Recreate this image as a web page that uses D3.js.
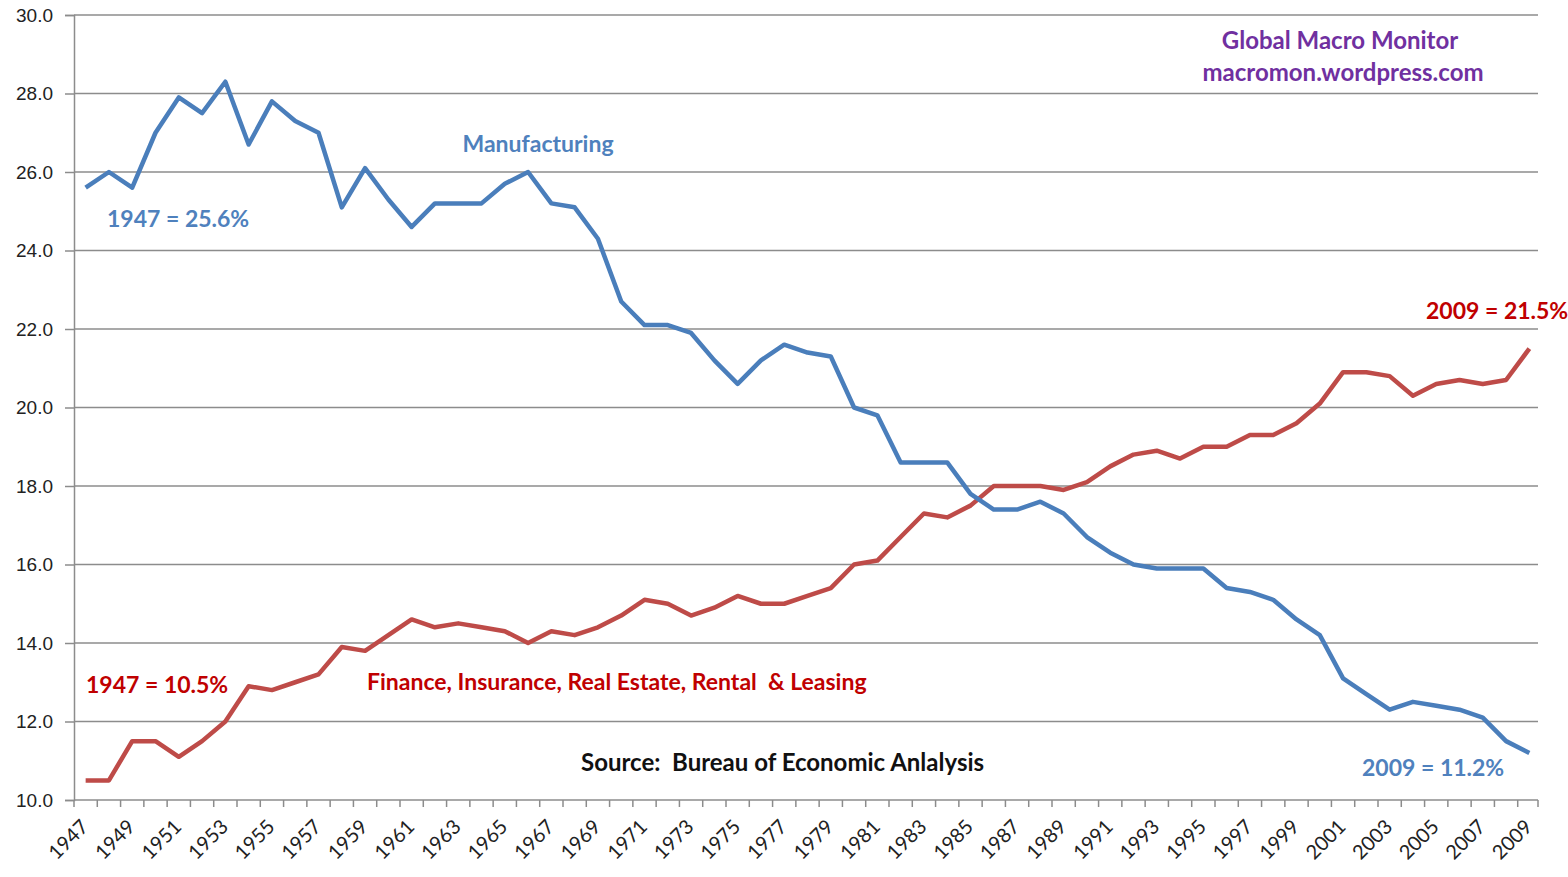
<!DOCTYPE html>
<html>
<head>
<meta charset="utf-8">
<script src="https://cdn.jsdelivr.net/npm/d3@7"></script>
<style>
  body { margin: 0; background: #fff; }
  svg { display: block; font-family: Lato, "Open Sans", sans-serif; }
  .grid line { stroke: #8c8c8c; stroke-width: 1.5; }
  .axis path, .axis line { stroke: #8c8c8c; stroke-width: 1.5; }
  .axis text { fill: #222; font-size: 19px; }
  .note { font-weight: bold; font-size: 23px; }
</style>
</head>
<body>
<script>

//------------------------------------------------------------------------------
// Data (share of GDP, %)
//------------------------------------------------------------------------------

var years = d3.range(1947, 2010);

var manufacturing = [
  25.6, 26.0, 25.6, 27.0, 27.9, 27.5, 28.3, 26.7, 27.8, 27.3,
  27.0, 25.1, 26.1, 25.3, 24.6, 25.2, 25.2, 25.2, 25.7, 26.0,
  25.2, 25.1, 24.3, 22.7, 22.1, 22.1, 21.9, 21.2, 20.6, 21.2,
  21.6, 21.4, 21.3, 20.0, 19.8, 18.6, 18.6, 18.6, 17.8, 17.4,
  17.4, 17.6, 17.3, 16.7, 16.3, 16.0, 15.9, 15.9, 15.9, 15.4,
  15.3, 15.1, 14.6, 14.2, 13.1, 12.7, 12.3, 12.5, 12.4, 12.3,
  12.1, 11.5, 11.2
];

var finance = [
  10.5, 10.5, 11.5, 11.5, 11.1, 11.5, 12.0, 12.9, 12.8, 13.0,
  13.2, 13.9, 13.8, 14.2, 14.6, 14.4, 14.5, 14.4, 14.3, 14.0,
  14.3, 14.2, 14.4, 14.7, 15.1, 15.0, 14.7, 14.9, 15.2, 15.0,
  15.0, 15.2, 15.4, 16.0, 16.1, 16.7, 17.3, 17.2, 17.5, 18.0,
  18.0, 18.0, 17.9, 18.1, 18.5, 18.8, 18.9, 18.7, 19.0, 19.0,
  19.3, 19.3, 19.6, 20.1, 20.9, 20.9, 20.8, 20.3, 20.6, 20.7,
  20.6, 20.7, 21.5
];

var yTicks = d3.range(10, 30.01, 2);

(function() {

//------------------------------------------------------------------------------
// Layout
//------------------------------------------------------------------------------

var width = 1568, height = 877;
var plotLeft = 74, plotRight = 1541, plotTop = 15, plotBottom = 800;

var blue = "#4a7ebb", red = "#be4b48";

var svg = d3.select("body").append("svg")
  .attr("width", width)
  .attr("height", height);

var x = d3.scaleBand()
  .domain(years)
  .range([plotLeft, plotRight]);

var y = d3.scaleLinear()
  .domain([10, 30])
  .range([plotBottom, plotTop]);

var cx = function(yr) { return x(yr) + x.bandwidth() / 2; };

// Gridlines
svg.append("g")
  .attr("class", "grid")
  .selectAll("line")
  .data(yTicks.slice(1))
  .enter().append("line")
    .attr("x1", plotLeft)
    .attr("x2", plotRight - 3)
    .attr("y1", function(d) { return y(d); })
    .attr("y2", function(d) { return y(d); });

// Y axis
svg.append("g")
  .attr("class", "axis")
  .attr("transform", "translate(" + plotLeft + ",0)")
  .call(d3.axisLeft(y).tickValues(yTicks).tickFormat(d3.format(".1f")).tickSizeOuter(0).tickSize(9).tickPadding(12));

// X axis, ticks between categories
var xAxis = svg.append("g")
  .attr("class", "axis")
  .attr("transform", "translate(0," + plotBottom + ")");

xAxis.append("line")
  .attr("x1", plotLeft).attr("x2", plotRight - 3)
  .attr("y1", 0).attr("y2", 0);

xAxis.selectAll(".tick")
  .data(years.concat([2010]))
  .enter().append("line")
    .attr("x1", function(d) { return d == 2010 ? plotRight - 3 : x(d); })
    .attr("x2", function(d) { return d == 2010 ? plotRight - 3 : x(d); })
    .attr("y1", 0)
    .attr("y2", 7);

xAxis.selectAll("text")
  .data(years.filter(function(d) { return (d - 1947) % 2 == 0; }))
  .enter().append("text")
    .attr("text-anchor", "end")
    .attr("transform", function(d) { return "translate(" + (cx(d) + 4) + ",28) rotate(-45)"; })
    .style("font-size", "20px")
    .text(function(d) { return d; });

//------------------------------------------------------------------------------
// Series
//------------------------------------------------------------------------------

var line = d3.line()
  .x(function(d, i) { return cx(years[i]); })
  .y(function(d) { return y(d); });

svg.append("path")
  .datum(finance)
  .attr("fill", "none")
  .attr("stroke", red)
  .attr("stroke-width", 4.5)
  .attr("stroke-linejoin", "round")
  .attr("d", line);

svg.append("path")
  .datum(manufacturing)
  .attr("fill", "none")
  .attr("stroke", blue)
  .attr("stroke-width", 4.5)
  .attr("stroke-linejoin", "round")
  .attr("d", line);

//------------------------------------------------------------------------------
// Annotations
//------------------------------------------------------------------------------

var notes = [
  { text: "Manufacturing", x: 538, y: 152, color: "#4f81bd", anchor: "middle", size: 23 },
  { text: "1947 = 25.6%", x: 107, y: 227, color: "#4f81bd", anchor: "start", size: 23 },
  { text: "2009 = 11.2%", x: 1362, y: 776, color: "#4f81bd", anchor: "start", size: 23 },
  { text: "1947 = 10.5%", x: 86, y: 693, color: "#c00000", anchor: "start", size: 23 },
  { text: "2009 = 21.5%", x: 1426, y: 319, color: "#c00000", anchor: "start", size: 23 },
  { text: "Finance, Insurance, Real Estate, Rental \u00a0& Leasing", x: 367, y: 690, color: "#c00000", anchor: "start", size: 23 },
  { text: "Source:  Bureau of Economic Anlalysis", x: 581, y: 771, color: "#111", anchor: "start", size: 24 },
  { text: "Global Macro Monitor", x: 1340, y: 49, color: "#7030a0", anchor: "middle", size: 24 },
  { text: "macromon.wordpress.com", x: 1343, y: 81, color: "#7030a0", anchor: "middle", size: 24 }
];

svg.selectAll(".note")
  .data(notes)
  .enter().append("text")
    .attr("class", "note")
    .attr("x", function(d) { return d.x; })
    .attr("y", function(d) { return d.y; })
    .attr("text-anchor", function(d) { return d.anchor; })
    .attr("fill", function(d) { return d.color; })
    .style("font-size", function(d) { return d.size + "px"; })
    .style("white-space", "pre")
    .text(function(d) { return d.text; });

})();

</script>
</body>
</html>
